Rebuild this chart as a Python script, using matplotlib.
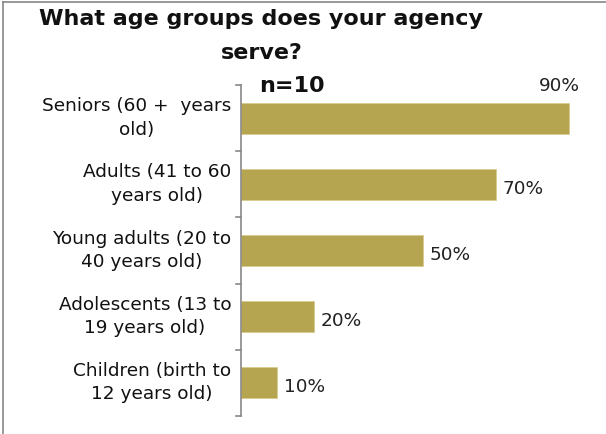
import matplotlib
matplotlib.use("Agg")
import matplotlib.pyplot as plt
import matplotlib.transforms as mtransforms
from matplotlib.lines import Line2D

categories = ["Seniors (60 +  years\nold)", "Adults (41 to 60\nyears old)",
              "Young adults (20 to\n40 years old)", "Adolescents (13 to\n19 years old)",
              "Children (birth to\n12 years old)"]
values = [90, 70, 50, 20, 10]
value_labels = ["90%", "70%", "50%", "20%", "10%"]

plt.rcParams['font.family'] = ['DejaVu Sans']

fig = plt.figure(figsize=(6.06, 4.35), dpi=100)
W, H = 606, 435
ax = fig.add_axes([241 / W, 1 - 417 / H, (590 - 241) / W, (417 - 86) / H])

n = len(categories)
ypos = list(range(n))[::-1]
color = "#B5A450"
ax.barh(ypos, values, height=0.47, color=color, edgecolor="#D8CC90", linewidth=0.6)
ax.set_ylim(-0.5, n - 0.5)
ax.set_xlim(0, 90 * (590 - 241) / (569 - 241))

fs = 13.3
for i, (y, v, lab) in enumerate(zip(ypos, values, value_labels)):
    if i == 0:
        ax.text(v + 3, y + 0.36, lab, ha="right", va="bottom", fontsize=fs,
                color="#222222")
    else:
        ax.text(v + 1.8, y - 0.05, lab, ha="left", va="center", fontsize=fs,
                color="#222222")

ax.set_yticks(ypos)
ax.set_yticklabels(categories, fontsize=fs, multialignment="center",
                   linespacing=1.4, color="#111111")
ax.tick_params(axis="y", length=0, pad=7)
shift = mtransforms.ScaledTranslation(0, 6 / 100, fig.dpi_scale_trans)
for lbl in ax.get_yticklabels():
    lbl.set_transform(lbl.get_transform() + shift)
for b in [x - 0.5 for x in range(n + 1)]:
    ax.plot([-0.014, 0], [b, b], transform=ax.get_yaxis_transform(),
            color="#888888", lw=1.2, clip_on=False)
ax.set_xticks([])
for s in ["top", "right", "bottom"]:
    ax.spines[s].set_visible(False)
ax.spines["left"].set_color("#888888")
ax.spines["left"].set_linewidth(1.2)

fig.text(261 / W, 1 - 19 / H, "What age groups does your agency", ha="center",
         va="center", fontsize=16, fontweight="bold", color="#111111")
fig.text(262 / W, 1 - 53 / H, "serve?", ha="center", va="center",
         fontsize=16, fontweight="bold", color="#111111")
fig.text(259 / W, 1 - 86 / H, "n=10", ha="left", va="center",
         fontsize=16, fontweight="bold", color="#111111")

fig.add_artist(Line2D([3 / W, 3 / W], [0, 1 - 3 / H], transform=fig.transFigure,
                      color="#888888", lw=1.2))
fig.add_artist(Line2D([3 / W, 1], [1 - 3 / H, 1 - 3 / H], transform=fig.transFigure,
                      color="#888888", lw=1.2))

fig.savefig("out.png", dpi=100)
